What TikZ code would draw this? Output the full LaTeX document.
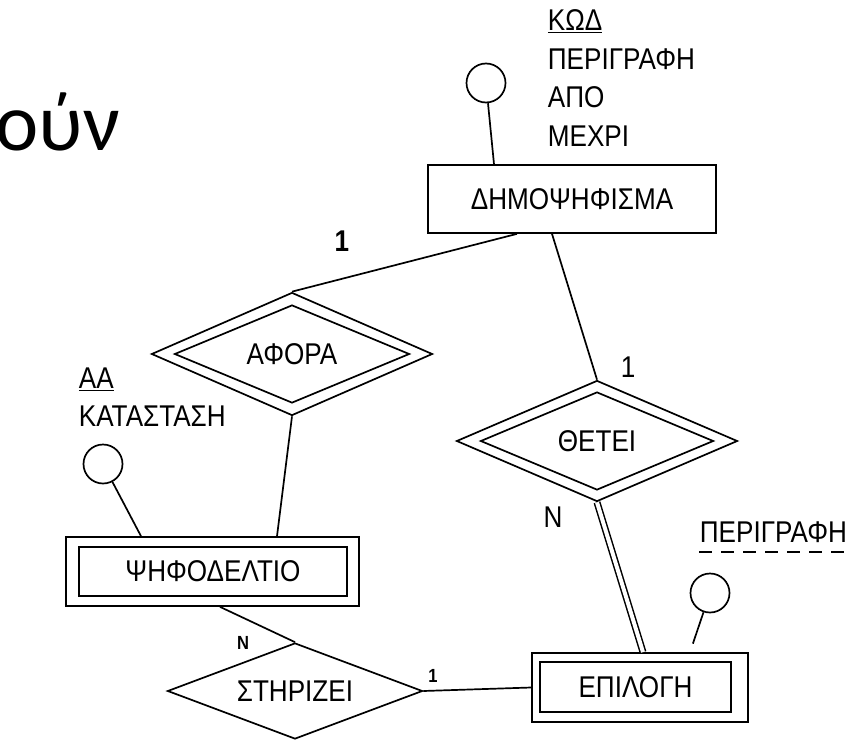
\documentclass[tikz,border=0pt]{standalone}
\usepackage{fontspec}
\setmainfont{Liberation Sans}[FakeStretch=0.87]
\newfontfamily\titlefont{Carlito}
\usetikzlibrary{shapes.geometric}

\tikzset{
  ent/.style={draw, line width=1.7pt, inner sep=0pt, font=\fontsize{30}{36}\selectfont},
  rel/.style={draw, diamond, line width=1.7pt, inner sep=0pt, aspect=2.3, font=\fontsize{30}{36}\selectfont},
  attr/.style={draw, circle, line width=1.7pt, minimum size=39pt, inner sep=0pt},
  lbl/.style={font=\fontsize{30}{38.5}\selectfont, inner sep=0pt, align=left},
  card/.style={font=\fontsize{30}{36}\selectfont, inner sep=0pt},
  smallcard/.style={font=\bfseries\fontsize{19}{22}\selectfont, inner sep=0pt}
}

\begin{document}
\begin{tikzpicture}[x=1pt, y=-1pt, line width=1.7pt]
\useasboundingbox (0,0) rectangle (861,741);
\node[font=\titlefont\fontsize{82}{90}\selectfont, anchor=base east, inner sep=0pt] (title) at (121,150) {ούν};

\node[ent, minimum width=288pt, minimum height=68pt] (dhm) at (572,199) {ΔΗΜΟΨΗΦΙΣΜΑ};
\node[attr] (dhmattr) at (486,83) {};
\node[lbl, anchor=north west] (dhmlist) at (547,9) {\underline{ΚΩΔ}\\ΠΕΡΙΓΡΑΦΗ\\ΑΠΟ\\ΜΕΧΡΙ};

\node[rel, minimum width=281pt, minimum height=123pt] (aph) at (292,354) {};
\node[rel, minimum width=235pt, minimum height=98pt] (aphin) at (aph) {ΑΦΟΡΑ};

\node[rel, minimum width=281pt, minimum height=121pt] (thet) at (597,441) {};
\node[rel, minimum width=233pt, minimum height=98pt] (thetin) at (thet) {ΘΕΤΕΙ};

\node[ent, minimum width=293pt, minimum height=69pt] (psd) at (212.5,571.5) {};
\node[ent, minimum width=268pt, minimum height=49pt] (psdin) at (213,571.5) {ΨΗΦΟΔΕΛΤΙΟ};
\node[attr] (psdattr) at (103,464) {};
\node[lbl, anchor=north west] (psdlist) at (78,367) {\underline{ΑΑ}\\ΚΑΤΑΣΤΑΣΗ};

\node[rel, minimum width=255pt, minimum height=96pt] (stir) at (295,691) {ΣΤΗΡΙΖΕΙ};

\node[ent, minimum width=216pt, minimum height=69pt] (epi) at (640,687.5) {};
\node[ent, minimum width=191pt, minimum height=50pt] (epiin) at (635.5,687) {ΕΠΙΛΟΓΗ};
\node[attr] (epiattr) at (710,593) {};
\node[lbl, anchor=north west] (epilist) at (699,521) {ΠΕΡΙΓΡΑΦΗ};
\draw[dashed, line width=2.5pt, dash pattern=on 13pt off 9pt] (699,552) -- (852,552);

\node[card, font=\bfseries\fontsize{30}{36}\selectfont] (c1) at (342,241) {1};
\node[card] (c2) at (628,367) {1};
\node[card] (c3) at (553,517) {N};
\node[smallcard] (c4) at (243,643) {N};
\node[smallcard] (c5) at (433,676) {1};

\draw ([xshift=-55pt]dhm.south) -- (aph.north);
\draw ([xshift=-20pt]dhm.south) -- (thet.north);
\draw (aph.south) -- ([xshift=64.5pt]psd.north);
\draw (dhmattr) -- ([xshift=-78pt]dhm.north);
\draw (psdattr) -- ([xshift=-71.5pt]psd.north);
\draw ([xshift=7.5pt]psd.south) -- (stir.north);
\draw (stir.east) -- (epi.west);
\draw[double, double distance=4pt, line width=1.5pt] (thet.south) -- ([xshift=3pt]epi.north);
\draw[shorten >=9pt] (epiattr) -- ([xshift=50pt]epi.north);
\end{tikzpicture}
\end{document}
